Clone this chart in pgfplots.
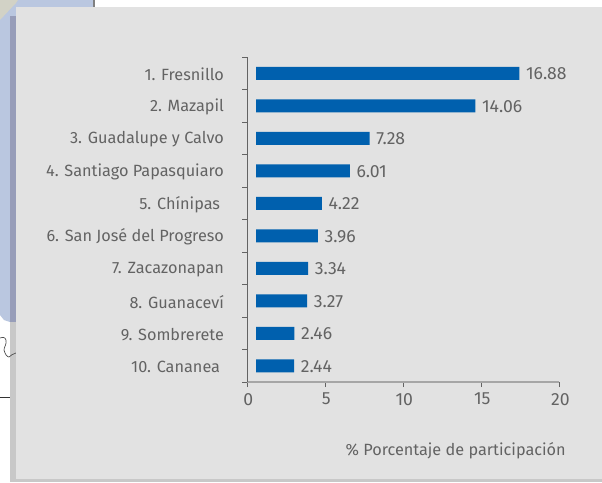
\documentclass[border=0pt]{standalone}
\usepackage{pgfplots}
\pgfplotsset{compat=1.18}
\usepackage{fontspec}
\setmainfont{Fira Sans}
\definecolor{txt}{HTML}{636363}
\definecolor{panel}{HTML}{E2E2E2}
\definecolor{shadow}{HTML}{C8C8C8}
\definecolor{mapblue}{HTML}{BAC7E0}
\definecolor{mapdark}{HTML}{979DB9}
\definecolor{beige}{HTML}{D2D2C6}
\definecolor{barblue}{HTML}{0060AE}
\begin{document}
\begin{tikzpicture}[x=0.75pt,y=-0.75pt,shift={(0,-482)}]
\clip (0,0) rectangle (602,482);
\fill[white] (0,0) rectangle (602,482);
\fill[mapblue] (0,0) -- (93,0) -- (93,322) -- (10,322) -- (4,320) -- (0,315) -- cycle;
\fill[black!50] (93,0) rectangle (95,7);
\fill[beige] (0,0) -- (18,0) -- (16,3) -- (0,20) -- cycle;
\fill[mapdark] (10,16) rectangle (16,322);
\fill[shadow] (10,322) rectangle (16,482);
\fill[shadow] (10,479) rectangle (602,482);
\draw[black!70,line width=0.5pt] (0,338) .. controls (3,337) and (5,337) .. (6,340) .. controls (7,344) and (4,347) .. (4,350) .. controls (5,354) and (7,357) .. (9,357) .. controls (11,356) and (13,353) .. (16,353);
\draw[black!80,line width=0.7pt] (0,397.5) -- (10,397.5);
\fill[panel] (16,7) rectangle (602,479);
\begin{axis}[
  at={(185.25pt,-286.5pt)}, anchor=south west,
  scale only axis, width=234pt, height=243.75pt,
  y dir=reverse,
  xmin=-0.58, xmax=19.42, ymin=-0.5, ymax=9.5,
  axis lines=left, axis line style={-, draw=none},
  xtick={-0.58,4.42,9.42,14.42,19.42},
  xticklabels={0,5,10,15,20},
  ytick={0,1,2,3,4,5,6,7,8,9},
  yticklabels={1. Fresnillo,2. Mazapil,3. Guadalupe y Calvo,4. Santiago Papasquiaro,5. Chínipas\phantom{.},6. San José del Progreso,7. Zacazonapan,8. Guanaceví,9. Sombrerete,10. Cananea\phantom{.}},
  minor ytick={-0.5,0.5,1.5,2.5,3.5,4.5,5.5,6.5,7.5,8.5,9.5},
  tick align=outside,
  major tick length=3.75pt,
  y tick style={draw=none},
  x tick style={draw=txt,line width=0.5pt},
  minor tick length=3.75pt,
  minor y tick style={draw=txt,line width=0.5pt},
  y tick label style={text=txt,font=\fontsize{12.2}{13}\selectfont,xshift=-10pt,yshift=-0.8pt},
  x tick label style={text=txt,font=\fontsize{13.2}{14}\selectfont,yshift=-1pt,xshift=1pt},
  /pgf/number format/assume math mode=true,
  clip=false,
  xbar, bar width=9.75pt,
  nodes near coords,
  point meta=x,
  every node near coord/.append style={text=txt,font=\fontsize{13.2}{14}\selectfont,xshift=1.5pt,yshift=-0.5pt,/pgf/number format/fixed,/pgf/number format/fixed zerofill,/pgf/number format/precision=2,/pgf/number format/assume math mode=true},
  after end axis/.code={
    \draw[draw=black!35,line width=1pt] (rel axis cs:0,0) -- (rel axis cs:1,0);
    \draw[draw=txt,line width=0.6pt] (rel axis cs:0,0) -- (rel axis cs:0,1);
  },
]
\addplot[draw=none,fill=barblue] coordinates {
(16.88,0)
(14.06,1)
(7.28,2)
(6.01,3)
(4.22,4)
(3.96,5)
(3.34,6)
(3.27,7)
(2.46,8)
(2.44,9)
};
\end{axis}
\node[anchor=east,text=txt,font=\fontsize{12.2}{13}\selectfont,inner sep=0pt] at (566,451) {\% Porcentaje de participación};
\end{tikzpicture}
\end{document}
